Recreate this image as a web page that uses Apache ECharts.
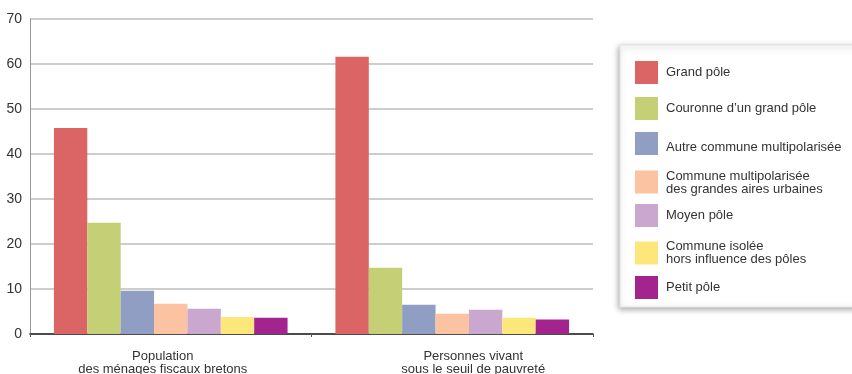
<!DOCTYPE html>
<html>
<head>
<meta charset="utf-8">
<script src="https://cdn.jsdelivr.net/npm/echarts@6/dist/echarts.min.js"></script>
<style>
  html, body { margin: 0; padding: 0; background: #fff; }
  #chart { width: 852px; height: 374px; }
</style>
</head>
<body>
<div id="chart"></div>
<script>
// Catégories (deux populations comparées)
const categories = [
  'Population\ndes ménages fiscaux bretons',
  'Personnes vivant\nsous le seuil de pauvreté'
];

// Types d'espace (légende)
const seriesNames = [
  'Grand pôle',
  'Couronne d\u2019un grand pôle',
  'Autre commune multipolarisée',
  'Commune multipolarisée\ndes grandes aires urbaines',
  'Moyen pôle',
  'Commune isolée\nhors influence des pôles',
  'Petit pôle'
];

// Parts en % pour chaque type d'espace : [population, personnes pauvres]
const grandPole = [45.8, 61.6];
const couronneGrandPole = [24.7, 14.7];
const autreMultipolarisee = [9.6, 6.5];
const multipolariseeGrandesAires = [6.7, 4.5];
const moyenPole = [5.6, 5.4];
const communeIsolee = [3.8, 3.6];
const petitPole = [3.6, 3.2];

const seriesValues = [
  grandPole, couronneGrandPole, autreMultipolarisee,
  multipolariseeGrandesAires, moyenPole, communeIsolee, petitPole
];

const yTicks = { min: 0, max: 70, interval: 10 };

const colors = ['#db6464', '#c5cf75', '#8f9ec2', '#fbc3a1', '#caa7cf', '#fde77a', '#a3238f'];

const chart = echarts.init(document.getElementById('chart'), null, { renderer: 'canvas' });

const font = 'Liberation Sans, Arial, sans-serif';

// one legend block per entry so each row sits at its own height
const legendTops = [61, 97, 132, 168, 204, 240, 276];
// top padding (px) that drops some legend texts a little below their swatch centre
const legendTextDrop = [0, 0, 8, 2, 0, 0, 0];
const legends = seriesNames.map((name, i) => ({
  data: [name],
  orient: 'vertical',
  left: 635,
  top: legendTops[i],
  padding: 0,
  itemWidth: 23,
  itemHeight: 23,
  icon: 'rect',
  selectedMode: false,
  formatter: n => n.split('\n').map(l => '{t|' + l + '}').join('\n'),
  textStyle: {
    fontFamily: font, fontSize: 13, color: '#333', lineHeight: 13,
    rich: {
      t: { fontFamily: font, fontSize: 13, color: '#333', lineHeight: 13, padding: [legendTextDrop[i], 0, 0, 3] }
    }
  }
}));

// horizontal nudges of the two category captions (left / right padding)
const labelPad = [[0, 16, 0, 0], [0, 0, 0, 42]];
const labelRich = {};
labelPad.forEach((p, i) => {
  labelRich['c' + i] = { fontFamily: font, fontSize: 13, color: '#333', lineHeight: 13, padding: p };
});

chart.setOption({
  animation: false,
  color: colors,
  graphic: [{
    type: 'rect',
    z: -1,
    shape: { x: 620, y: 45, width: 250, height: 262 },
    style: {
      fill: '#fff',
      stroke: '#e4e4e4',
      lineWidth: 1,
      shadowBlur: 6,
      shadowOffsetX: -1,
      shadowOffsetY: 2,
      shadowColor: 'rgba(0,0,0,0.35)'
    }
  }],
  legend: legends,
  grid: { left: 30, right: 259, top: 19, bottom: 40, containLabel: false, outerBoundsMode: 'none' },
  xAxis: {
    type: 'category',
    data: categories,
    axisLine: { lineStyle: { color: '#222', width: 1.5 } },
    axisTick: { show: true, length: 3, lineStyle: { color: '#555' } },
    axisLabel: {
      fontFamily: font, fontSize: 13, color: '#333', lineHeight: 13, margin: 16,
      formatter: (value, index) => value.split('\n').map(l => '{c' + index + '|' + l + '}').join('\n'),
      rich: labelRich
    }
  },
  yAxis: {
    type: 'value',
    min: yTicks.min,
    max: yTicks.max,
    interval: yTicks.interval,
    axisLine: { show: true, lineStyle: { color: '#999', width: 1 } },
    axisTick: { show: false },
    axisLabel: { fontFamily: font, fontSize: 14, color: '#333', margin: 8 },
    splitLine: { lineStyle: { color: '#bdbdbd', width: 1.5 } }
  },
  series: seriesNames.map((name, i) => ({
    name: name,
    type: 'bar',
    data: seriesValues[i],
    barGap: '0%',
    barCategoryGap: '17%',
    itemStyle: { color: colors[i] }
  }))
});
</script>
</body>
</html>
